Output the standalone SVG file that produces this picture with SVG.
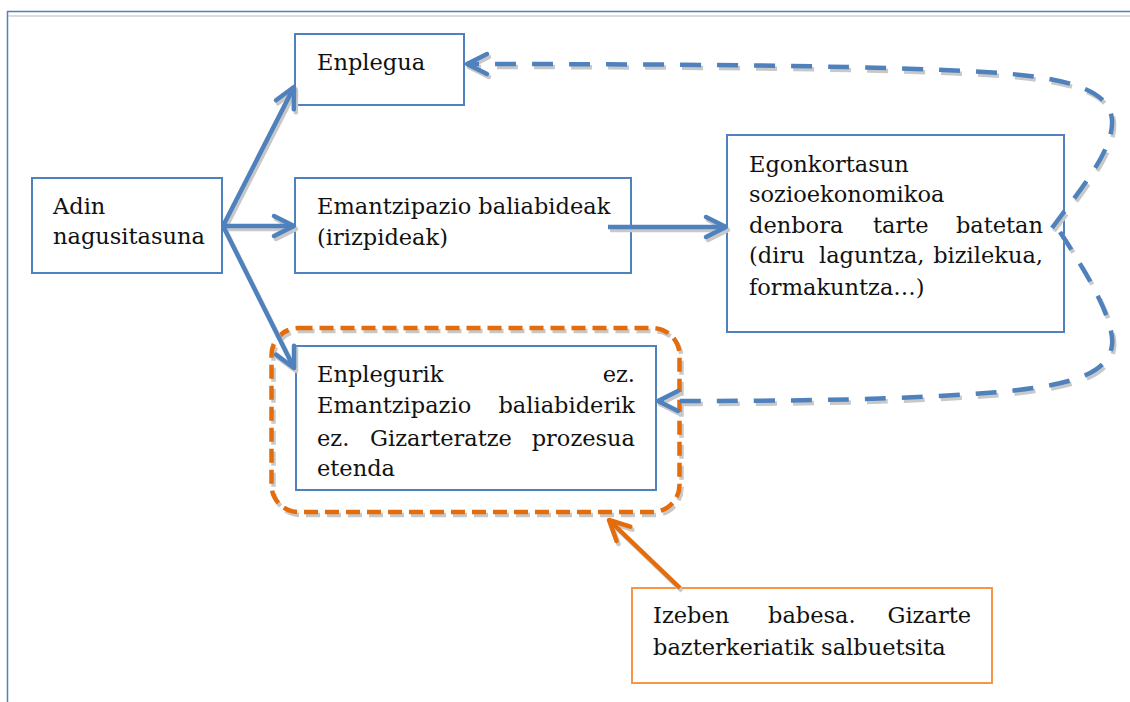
<svg xmlns="http://www.w3.org/2000/svg" width="1130" height="702" viewBox="0 0 1130 702">
<style>
.box{fill:#fff;stroke:#4F81BD;stroke-width:2}
.obox{fill:#fff;stroke:#F79646;stroke-width:2}
.t{font-family:"DejaVu Serif","Liberation Serif",serif;font-size:22.5px;fill:#111}
.e{text-anchor:end}
.conn{fill:none;stroke:#4F81BD;stroke-width:4.5}
.sh{fill:none;stroke:#C8C8C8;stroke-width:4.5}
.dash{stroke-dasharray:21 16}
.oconn{fill:none;stroke:#E46C0A;stroke-width:4.5}
</style>
<defs>
<marker id="ah" markerUnits="userSpaceOnUse" markerWidth="30" markerHeight="30" refX="22" refY="12" orient="auto" overflow="visible">
<path d="M2,2 L22,12 L2,22" fill="none" stroke="#4F81BD" stroke-width="4.5" stroke-linecap="round" stroke-linejoin="round" stroke-dasharray="none"/>
</marker>
<marker id="ahs" markerUnits="userSpaceOnUse" markerWidth="30" markerHeight="30" refX="22" refY="12" orient="auto" overflow="visible">
<path d="M2,2 L22,12 L2,22" fill="none" stroke="#C8C8C8" stroke-width="4.5" stroke-linecap="round" stroke-linejoin="round" stroke-dasharray="none"/>
</marker>
<marker id="aho" markerUnits="userSpaceOnUse" markerWidth="30" markerHeight="30" refX="22" refY="12" orient="auto" overflow="visible">
<path d="M2,2 L22,12 L2,22" fill="none" stroke="#E46C0A" stroke-width="4.5" stroke-linecap="round" stroke-linejoin="round" stroke-dasharray="none"/>
</marker>
</defs>

<g id="frame">
<line x1="7" y1="11.5" x2="1130" y2="11.5" stroke="#4F81BD" stroke-width="1.5"/>
<line x1="8.5" y1="16" x2="1130" y2="16" stroke="#D0D0D0" stroke-width="1.5"/>
<line x1="7.5" y1="11" x2="7.5" y2="702" stroke="#4F81BD" stroke-width="1.5"/>
</g>

<g id="node-adin">
<rect class="box" x="32" y="178" width="190" height="95"/>
<text class="t" x="53" y="214">Adin</text>
<text class="t" x="53" y="244">nagusitasuna</text>
</g>

<g id="node-enplegua">
<rect class="box" x="295" y="34" width="169" height="71"/>
<text class="t" x="317" y="70">Enplegua</text>
</g>

<g id="node-emantzipazio">
<rect class="box" x="295" y="178" width="336" height="95"/>
<text class="t" x="317" y="214">Emantzipazio baliabideak</text>
<text class="t" x="317" y="245">(irizpideak)</text>
</g>

<g id="node-egonkortasun">
<rect class="box" x="727" y="135" width="337" height="197"/>
<text class="t" x="749" y="172">Egonkortasun</text>
<text class="t" x="749" y="202">sozioekonomikoa</text>
<text class="t" x="749" y="233">denbora</text>
<text class="t" x="873" y="233">tarte</text>
<text class="t e" x="1043" y="233">batetan</text>
<text class="t" x="749" y="263">(diru</text>
<text class="t" x="819" y="263">laguntza,</text>
<text class="t e" x="1043" y="263">bizilekua,</text>
<text class="t" x="749" y="295">formakuntza…)</text>
</g>

<g id="node-enplegurik">
<rect x="273.5" y="331" width="408" height="184" rx="27" fill="none" stroke="#C8C8C8" stroke-width="4.5" stroke-dasharray="14 7"/>
<rect x="271.5" y="328" width="408" height="184" rx="27" fill="none" stroke="#E46C0A" stroke-width="4.5" stroke-dasharray="14 7"/>
<rect class="box" x="296" y="346" width="360" height="144"/>
<text class="t" x="317" y="382">Enplegurik</text>
<text class="t e" x="635" y="382">ez.</text>
<text class="t" x="317" y="413">Emantzipazio</text>
<text class="t e" x="635" y="413">baliabiderik</text>
<text class="t" x="317" y="446">ez.</text>
<text class="t" x="370" y="446">Gizarteratze</text>
<text class="t e" x="635" y="446">prozesua</text>
<text class="t" x="317" y="476">etenda</text>
</g>

<g id="node-izeben">
<rect class="obox" x="632" y="588" width="360" height="95"/>
<text class="t" x="653" y="623">Izeben</text>
<text class="t" x="768" y="623">babesa.</text>
<text class="t e" x="971" y="623">Gizarte</text>
<text class="t" x="653" y="655">bazterkeriatik salbuetsita</text>
</g>

<g id="connectors">
<g transform="translate(2,3)">
<path class="sh" d="M223,226 L294,87" marker-end="url(#ahs)"/>
<path class="sh" d="M223,226 L294,226" marker-end="url(#ahs)"/>
<path class="sh" d="M223,226 L294,368" marker-end="url(#ahs)"/>
<path class="sh" d="M608,227 L726,227" marker-end="url(#ahs)"/>
<path class="sh dash" d="M1052,228 C1080,190 1114,150 1112,120 C1110,92 1075,79 1000,73 C900,66 700,64 467,64" marker-end="url(#ahs)"/>
<path class="sh dash" d="M1060,232 C1085,270 1115,320 1112,345 C1108,375 1070,385 1000,392 C900,400 800,401 658,401" marker-end="url(#ahs)"/>
<path class="sh" d="M680,588 L609,520" marker-end="url(#ahs)"/>
</g>
<path class="conn" d="M223,226 L294,87" marker-end="url(#ah)"/>
<path class="conn" d="M223,226 L294,226" marker-end="url(#ah)"/>
<path class="conn" d="M223,226 L294,368" marker-end="url(#ah)"/>
<path class="conn" d="M608,227 L726,227" marker-end="url(#ah)"/>
<path class="conn dash" d="M1052,228 C1080,190 1114,150 1112,120 C1110,92 1075,79 1000,73 C900,66 700,64 467,64" marker-end="url(#ah)"/>
<path class="conn dash" d="M1060,232 C1085,270 1115,320 1112,345 C1108,375 1070,385 1000,392 C900,400 800,401 658,401" marker-end="url(#ah)"/>
<path class="oconn" d="M680,588 L609,520" marker-end="url(#aho)"/>
</g>
</svg>
